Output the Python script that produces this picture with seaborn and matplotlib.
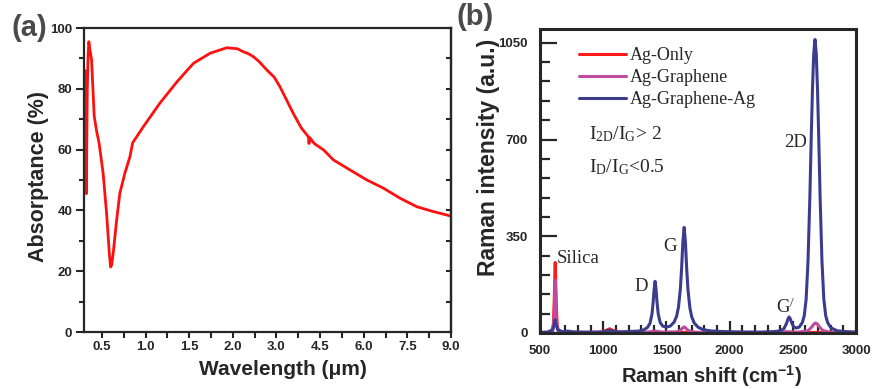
import numpy as np
import pandas as pd
import seaborn as sns
import matplotlib.pyplot as plt
from matplotlib.ticker import MultipleLocator, FixedLocator

# ---------------------------------------------------------------- data (a)
wl = [0.302, 0.306, 0.31, 0.316, 0.322, 0.327, 0.333, 0.342, 0.351, 0.362,
      0.382, 0.412, 0.44, 0.469, 0.515, 0.554, 0.585, 0.600, 0.612, 0.630,
      0.669, 0.706, 0.764, 0.821, 0.852, 0.974, 1.165, 1.36, 1.55, 1.74,
      1.93, 2.1, 2.24, 2.35, 2.47, 2.6, 2.78, 2.95, 3.12, 3.35, 3.58, 3.85,
      4.05, 4.1, 4.12, 4.14, 4.3, 4.62, 4.96, 5.53, 6.11, 6.68, 7.25, 7.83,
      8.4, 8.97, 9.0]
absorb = [57, 86, 68, 52, 45.5, 62, 80, 91, 95.5, 93,
          89.5, 71, 66, 62, 52, 39, 26, 21.4, 22, 26,
          36.8, 45.7, 52.3, 57.6, 62.2, 67.5, 75.3, 82.3, 88.4, 91.7,
          93.5, 93.2, 92.2, 91.6, 90.6, 89, 86.2, 83.8, 80.7, 76.3, 71.9, 67.2,
          64.8, 64.2, 62, 64, 62, 59.9, 56.6, 53.3, 50, 47.3, 44, 41.2,
          39.6, 38.2, 38]
wl_ticks = [0.5, 1.0, 1.5, 2.0, 3.0, 4.5, 6.0, 7.5, 9.0]
wl_minor = [0.75, 1.25, 1.75, 2.5, 3.75, 5.25, 6.75, 8.25]

# ---------------------------------------------------------------- data (b)
x_agonly = [500, 560, 595, 605, 612, 617, 620, 623, 628, 635, 645, 680, 800,
            980, 1020, 1050, 1080, 1120, 1200, 3000]
y_agonly = [2, 2, 6, 30, 110, 210, 255, 210, 110, 30, 7, 3, 2,
            3, 9, 15, 9, 3, 2, 2]

x_aggr = [500, 560, 595, 605, 612, 617, 620, 623, 628, 635, 645, 680, 800,
          1000, 1050, 1100, 1350, 1410, 1470, 1580, 1610, 1630, 1640, 1650,
          1670, 1700, 1760, 2400, 2450, 2480, 2540, 2620, 2650, 2670, 2680,
          2690, 2710, 2740, 2800, 3000]
y_aggr = [2, 2, 5, 20, 70, 150, 192, 150, 70, 20, 6, 3, 2,
          2, 4, 2, 3, 7, 3, 4, 10, 19, 22, 19,
          10, 4, 2, 2, 5, 4, 3, 8, 22, 34, 36,
          34, 22, 8, 3, 2]

x_aggrag = [500, 560, 600, 612, 620, 628, 640, 680, 720, 760, 850, 950, 1000,
            1030, 1050, 1070, 1100, 1200, 1280, 1320, 1350, 1370, 1385, 1395,
            1402, 1410, 1418, 1425, 1435, 1450, 1470, 1500, 1530, 1560, 1580,
            1595, 1610, 1620, 1630, 1640, 1650, 1660, 1670, 1685, 1700, 1720,
            1750, 1790, 1850, 1950, 2100, 2250, 2350, 2400, 2430, 2450, 2460,
            2470, 2480, 2490, 2505, 2525, 2550, 2575, 2590, 2605, 2620, 2635,
            2645, 2655, 2665, 2675, 2685, 2695, 2705, 2715, 2730, 2745, 2760,
            2775, 2800, 2850, 2920, 3000]
y_aggrag = [2, 3, 12, 30, 48, 30, 12, 4, 7, 4, 3, 3, 4,
            8, 10, 8, 4, 5, 7, 11, 20, 35, 67, 112,
            156, 187, 157, 113, 69, 38, 25, 21, 25, 39, 60,
            93, 159, 235, 330, 382, 330, 234, 158, 92, 58, 36,
            21, 12, 7.5, 5, 3.5, 3, 5, 8, 16, 35, 49,
            58, 51, 38, 23, 18, 21, 38, 62, 122, 262, 500,
            700, 880, 1010, 1062, 1012, 882, 702, 502, 262, 122, 62,
            38, 19, 8, 5, 3]

series_names = ['Ag-Only', 'Ag-Graphene', 'Ag-Graphene-Ag']
series_colors = ['#ff1a1a', '#c24a9c', '#3c3c8e']

peak_labels = ['Silica', 'D', 'G', r'G$^{/}$', '2D']
peak_x = [800, 1300, 1530, 2440, 2520]
peak_y = [270, 168, 312, 92, 690]

# ---------------------------------------------------------------- style
sns.set_style('ticks')
plt.rcParams['font.family'] = ['Liberation Sans', 'DejaVu Sans']
plt.rcParams['mathtext.fontset'] = 'custom'
plt.rcParams['mathtext.rm'] = 'Liberation Serif'
plt.rcParams['mathtext.it'] = 'Liberation Serif:italic'
plt.rcParams['mathtext.bf'] = 'Liberation Sans:bold'
serif = ['Liberation Serif', 'DejaVu Serif']

fig = plt.figure(figsize=(8.73, 3.89), dpi=100)
ax1 = fig.add_axes([0.0962, 0.1465, 0.4204, 0.7815])
ax2 = fig.add_axes([0.6186, 0.1440, 0.3620, 0.7815])

# ---------------------------------------------------------------- panel (a)
# non-uniform wavelength axis, each tick equally spaced
knots_wl = np.array([0.0, 0.5, 1.0, 1.5, 2.0, 3.0, 4.5, 6.0, 7.5, 9.0, 10.5])
knots_ix = np.arange(-1, 10, dtype=float)
fwd = lambda v: np.interp(v, knots_wl, knots_ix)
inv = lambda v: np.interp(v, knots_ix, knots_wl)

sns.lineplot(x=wl, y=absorb, ax=ax1, color='#ff1010', lw=2)
ax1.set_xscale('function', functions=(fwd, inv))
ax1.set_xlim(0.295, 9.0)
ax1.set_ylim(0, 100)
ax1.xaxis.set_major_locator(FixedLocator(wl_ticks))
ax1.xaxis.set_minor_locator(FixedLocator(wl_minor))
ax1.set_xticklabels([f'{t:.1f}' for t in wl_ticks])
ax1.yaxis.set_major_locator(MultipleLocator(20))
ax1.yaxis.set_minor_locator(MultipleLocator(10))
ax1.tick_params(which='major', direction='out', length=6, width=1.5, labelsize=9.5, pad=2.5)
ax1.tick_params(which='minor', direction='out', length=3.5, width=1.5)
ax1.tick_params(axis='x', which='both', length=4)
for s in ax1.spines.values():
    s.set_linewidth(1.6)
sec = ax1.secondary_yaxis('right')
sec.yaxis.set_major_locator(MultipleLocator(10))
sec.tick_params(direction='in', length=3.5, width=1.5, labelright=False)
sec.spines['right'].set_linewidth(1.6)
ax1.set_xlabel('Wavelength (\u03bcm)', fontsize=15, fontweight='bold')
ax1.set_ylabel('Absorptance (%)', fontsize=15.5, fontweight='bold')
ax1.xaxis.set_label_coords(0.542, -0.092)
ax1.yaxis.set_label_coords(-0.094, 0.511)
for t in ax1.get_xticklabels() + ax1.get_yticklabels():
    t.set_fontweight('bold')
fig.text(0.013, 0.928, '(a)', fontsize=21, fontweight='bold', color='#4a4a4a', va='center')

# ---------------------------------------------------------------- panel (b)
for xs, ys, name, col in zip([x_agonly, x_aggr, x_aggrag],
                             [y_agonly, y_aggr, y_aggrag],
                             series_names, series_colors):
    sns.lineplot(x=xs, y=ys, ax=ax2, color=col, lw=2.2, label=name)

ax2.set_xlim(500, 3000)
ax2.set_ylim(0, 1100)
ax2.set_yticks([0, 350, 700, 1050])
ax2.yaxis.set_minor_locator(MultipleLocator(70))
ax2.xaxis.set_major_locator(MultipleLocator(500))
ax2.xaxis.set_minor_locator(MultipleLocator(100))
ax2.tick_params(axis='y', which='major', direction='in', length=12, width=1.6, labelsize=9.5, pad=9)
ax2.tick_params(axis='y', which='minor', direction='in', length=7, width=1.6)
ax2.tick_params(axis='x', which='major', direction='in', length=9, width=1.6, labelsize=9.5, pad=9)
ax2.tick_params(axis='x', which='minor', direction='in', length=5.5, width=1.6)
for t in ax2.get_xticklabels() + ax2.get_yticklabels():
    t.set_fontweight('bold')
for s in ax2.spines.values():
    s.set_linewidth(2.2)
ax2.set_xlabel(r'Raman shift (cm$^{\mathbf{-1}}$)', fontsize=14.5, fontweight='bold')
ax2.set_ylabel('Raman intensity (a.u.)', fontsize=16.5, fontweight='bold')
ax2.xaxis.set_label_coords(0.544, -0.1)
ax2.yaxis.set_label_coords(-0.126, 0.579)

leg = ax2.legend(loc='upper left', bbox_to_anchor=(0.123, 0.94), frameon=False,
                 handlelength=2.6, handletextpad=0.2, labelspacing=0.27,
                 borderaxespad=0, borderpad=0,
                 prop={'family': serif, 'size': 13})
for ln in leg.get_lines():
    ln.set_linewidth(2.2)

ax2.text(890, 720, r'$\mathrm{I_{2D}/I_{G}}$> 2', family=serif, fontsize=14, va='center')
ax2.text(890, 600, r'$\mathrm{I_{D}/I_{G}}$<0.5', family=serif, fontsize=14, va='center')
for lab, px, py in zip(peak_labels, peak_x, peak_y):
    ax2.text(px, py, lab, family=serif, fontsize=13.5, ha='center', va='center')

fig.text(0.523, 0.957, '(b)', fontsize=21, fontweight='bold', color='#4a4a4a', va='center')

fig.savefig('out.png', dpi=100)
